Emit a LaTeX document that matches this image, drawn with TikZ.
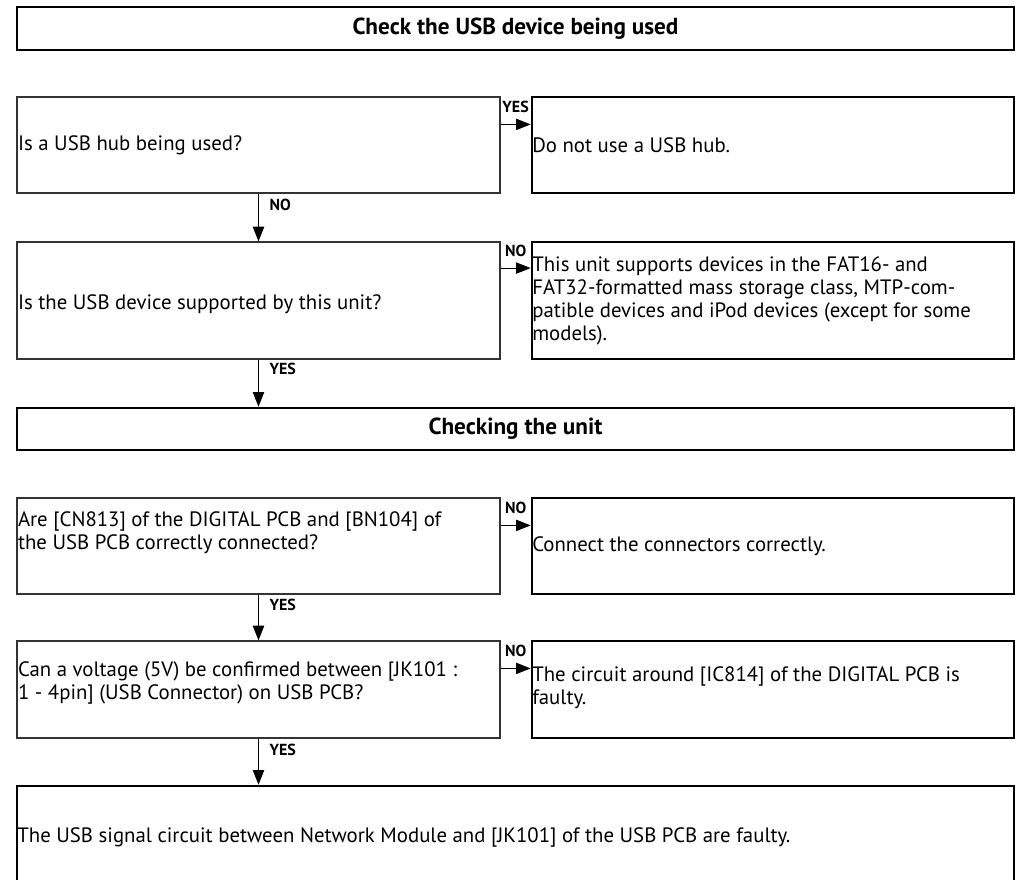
\documentclass[tikz,border=0pt]{standalone}
\usepackage{fontspec}
\setmainfont{PT Sans}
\usetikzlibrary{arrows.meta,calc}

\begin{document}
\begin{tikzpicture}[x=0.75pt,y=-0.75pt,>={Triangle[length=11pt,width=8.5pt]},
  every node/.style={font=\fontsize{15.6pt}{17.25pt}\selectfont},
  qbox/.style={draw=black!80,line width=0.9pt,minimum width=362.25pt,inner sep=0pt},
  abox/.style={draw,line width=2pt,minimum width=361.5pt,inner sep=0pt},
  hbox/.style={draw,line width=1.9pt,minimum width=747.75pt,inner sep=0pt,
    font=\fontsize{17.4pt}{20pt}\selectfont\bfseries},
  txt/.style={anchor=west,align=left,inner sep=1pt},
  lbl/.style={font=\fontsize{12pt}{12pt}\selectfont\bfseries,inner sep=0pt},
  arr/.style={->,line width=0.75pt}]
  \useasboundingbox (0,0) rectangle (1024,879);
  % USB device
  \node[hbox,minimum height=32.25pt] (h1) at (515.5,28.5) {Check the USB device being used};
  \node[qbox,minimum height=72pt] (q1) at (258.5,145) {};
  \node[abox,minimum height=72pt] (a1) at (773,145) {};
  \node[txt] (q1t) at (q1.west) {Is a USB hub being used?};
  \node[txt] (a1t) at (a1.west) {Do not use a USB hub.};
  \node[qbox,minimum height=87.75pt] (q2) at (258.5,300.5) {};
  \node[abox,minimum height=87.75pt] (a2) at (773,300.5) {};
  \node[txt] (q2t) at ([yshift=-3pt]q2.west) {Is the USB device supported by this unit?};
  \node[txt] (a2t) at (a2.west) {This unit supports devices in the FAT16- and\\
    FAT32-formatted mass storage class, MTP-com-\\
    patible devices and iPod devices (except for some\\
    models).};
  % unit
  \node[hbox,minimum height=31.5pt] (h2) at (515.5,429) {Checking the unit};
  \node[qbox,minimum height=72pt] (q3) at (258.5,546) {};
  \node[abox,minimum height=72pt] (a3) at (773,546) {};
  \node[txt] (q3t) at ([yshift=9.75pt]q3.west) {Are [CN813] of the DIGITAL PCB and [BN104] of\\
    the USB PCB correctly connected?};
  \node[txt] (a3t) at (a3.west) {Connect the connectors correctly.};
  \node[qbox,minimum height=72.75pt] (q4) at (258.5,689.5) {};
  \node[abox,minimum height=72.75pt] (a4) at (773,689.5) {};
  \node[txt] (q4t) at ([yshift=5pt]q4.west) {Can a voltage (5V) be confirmed between [JK101 :\\
    1 - 4pin] (USB Connector) on USB PCB?};
  \node[txt] (a4t) at ([yshift=1.5pt]a4.west) {The circuit around [IC814] of the DIGITAL PCB is\\
    faulty.};
  \node[hbox,minimum height=85.5pt] (fin) at (515.5,843) {};
  \node[txt] (fint) at ([yshift=4.5pt]fin.west) {The USB signal circuit between Network Module and [JK101] of the USB PCB are faulty.};
  % arrows
  \draw[arr] ([yshift=-21pt]q1.north east) -- ([yshift=-21pt]q1.north east -| a1.west)
    node[midway,above=8.5pt,lbl] {YES};
  \draw[arr] ([yshift=-20pt]q2.north east) -- ([yshift=-20pt]q2.north east -| a2.west)
    node[midway,above=8.5pt,lbl] {NO};
  \draw[arr] ([yshift=-21pt]q3.north east) -- ([yshift=-21pt]q3.north east -| a3.west)
    node[midway,above=8.5pt,lbl] {NO};
  \draw[arr] ([yshift=-21pt]q4.north east) -- ([yshift=-21pt]q4.north east -| a4.west)
    node[midway,above=8.5pt,lbl] {NO};
  \draw[arr] (q1.south) -- (q2.north) node[pos=0.24,right=8pt,lbl] {NO};
  \draw[arr] (q2.south) -- (q2.south |- h2.north) node[pos=0.2,right=8pt,lbl] {YES};
  \draw[arr] (q3.south) -- (q4.north) node[pos=0.22,right=8pt,lbl] {YES};
  \draw[arr] (q4.south) -- (q4.south |- fin.north) node[pos=0.25,right=8pt,lbl] {YES};
\end{tikzpicture}
\end{document}
